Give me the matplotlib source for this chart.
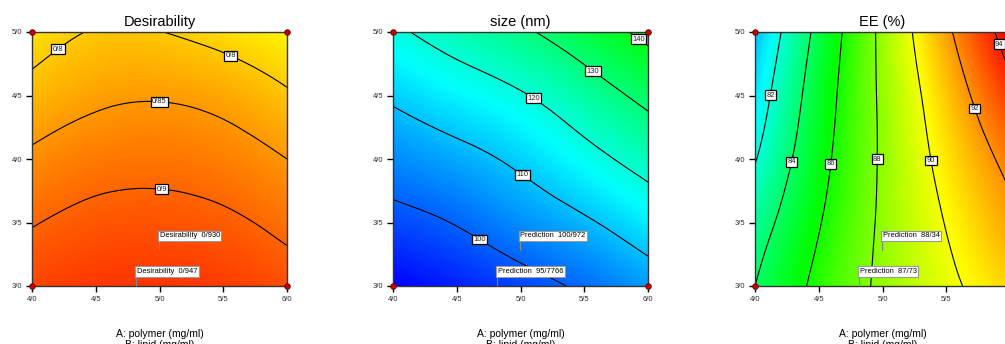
import numpy as np
import matplotlib
matplotlib.use("Agg")
import matplotlib.pyplot as plt
import matplotlib.tri as mtri
from matplotlib.colors import LinearSegmentedColormap

plt.rcParams['font.family'] = ['Liberation Sans', 'DejaVu Sans']

# factor levels (mg/ml)
polymer = [4.0, 4.5, 5.0, 5.5, 6.0]   # A
lipid = [3.0, 3.5, 4.0, 4.5, 5.0]     # B

# responses, rows = lipid, cols = polymer
desirability = [
    [0.932, 0.944, 0.947, 0.939, 0.922],
    [0.897, 0.914, 0.917, 0.909, 0.887],
    [0.859, 0.879, 0.884, 0.874, 0.850],
    [0.817, 0.840, 0.846, 0.834, 0.806],
    [0.775, 0.803, 0.801, 0.782, 0.757],
]
size_nm = [
    [90.2, 93.4, 97.2, 101.2, 106.1],
    [97.5, 100.4, 104.7, 109.0, 114.5],
    [104.3, 107.5, 111.6, 117.2, 123.2],
    [111.2, 115.3, 119.3, 125.5, 132.3],
    [118.6, 123.6, 128.6, 135.0, 142.2],
]
ee_pct = [
    [84.0, 86.43, 88.30, 89.69, 90.86],
    [83.1, 85.89, 88.24, 90.06, 91.68],
    [81.9, 85.38, 88.21, 90.51, 92.40],
    [81.0, 84.98, 88.28, 91.03, 93.55],
    [80.2, 84.51, 88.39, 91.70, 94.69],
]

# design points (corners)
design_A = [4.0, 4.0, 6.0, 6.0]
design_B = [3.0, 5.0, 3.0, 5.0]

titles = ['Desirability', 'size (nm)', 'EE (%)']
levels = [[0.8, 0.85, 0.9],
          [100, 110, 120, 130, 140],
          [82, 84, 86, 88, 90, 92, 94]]
color_range = [(0.0, 1.0), (90, 194), (77, 94.5)]

# flags: prediction at (5.0, 3.28) and at (4.82, 3.0)
flag_name = ['Desirability', 'Prediction', 'Prediction']
flag_hi = ['0/930', '100/972', '88/34']
flag_lo = ['0/947', '95/7766', '87/73']
flag_hi_at = (5.0, 3.28)
flag_lo_at = (4.82, 3.0)

label_spots = [
    [(4.17, 4.91), (5.57, 4.84), (5.0, 4.47), (5.02, 3.78)],
    [(4.70, 3.40), (5.035, 3.906), (5.10, 4.475), (5.58, 4.706), (5.93, 4.95)],
    [(4.118, 4.504), (4.283, 3.98), (4.598, 3.963), (4.957, 4.0),
     (5.371, 3.987), (5.72, 4.396), (5.93, 4.91)],
]

cmap = LinearSegmentedColormap.from_list(
    'dx', ['#0000ff', '#00ffff', '#00ff00', '#ffff00', '#ff0000'])

fig = plt.figure(figsize=(10.05, 3.44), dpi=100)
lefts = [32 / 1005, 393 / 1005, 755 / 1005]
bottom, w, h = 58 / 344, 255 / 1005, 254 / 344

AA, BB = np.meshgrid(polymer, lipid)
tri = mtri.Triangulation(AA.ravel(), BB.ravel())
refiner = mtri.UniformTriRefiner(tri)


def slash(v, pos=None):
    return f"{v:.1f}".replace('.', '/')


for i, z in enumerate([desirability, size_nm, ee_pct]):
    ax = fig.add_axes([lefts[i], bottom, w, h])
    tri_f, z_f = refiner.refine_field(np.array(z).ravel(), subdiv=5)
    vmin, vmax = color_range[i]
    ax.tripcolor(tri_f, z_f, shading='gouraud', cmap=cmap, vmin=vmin, vmax=vmax)
    cs = ax.tricontour(tri_f, z_f, levels=levels[i], colors='black', linewidths=0.8)
    fmt = (lambda v: f"{v:g}".replace('.', '/'))
    txts = ax.clabel(cs, manual=label_spots[i], inline=False, fmt=fmt, fontsize=5.5)
    for t in txts:
        t.set_rotation(0)
        t.set_color('#222222')
        t.set_bbox(dict(facecolor='white', edgecolor='black', linewidth=0.9, pad=1.0))

    ax.set_xlim(4, 6)
    ax.set_ylim(3, 5)
    ax.set_xticks(polymer)
    ax.set_yticks(lipid)
    ax.xaxis.set_major_formatter(plt.FuncFormatter(slash))
    ax.yaxis.set_major_formatter(plt.FuncFormatter(slash))
    ax.tick_params(direction='out', length=4, width=1, labelsize=5.5,
                   labelcolor='#333333', pad=3)
    for sp in ax.spines.values():
        sp.set_color('#333333')
        sp.set_linewidth(1)

    ax.set_title(titles[i], fontsize=10.5, pad=4)
    ax.text(0.5, -0.17, 'A: polymer (mg/ml)\nB: lipid (mg/ml)', transform=ax.transAxes,
            ha='center', va='top', fontsize=7.5, linespacing=1.1)

    ax.scatter(design_A, design_B, s=16, color='#cc0000', edgecolor='#550000',
               linewidth=0.6, zorder=6, clip_on=False)

    flag_box = dict(facecolor='white', edgecolor='#999999', linewidth=0.8, pad=1.2)
    for at, val in [(flag_hi_at, flag_hi[i]), (flag_lo_at, flag_lo[i])]:
        ax.annotate(f"{flag_name[i]}  {val}", xy=at, xytext=(0, 8),
                    textcoords='offset points', ha='left', va='bottom', fontsize=5.4,
                    bbox=flag_box, zorder=7,
                    arrowprops=dict(arrowstyle='-', color='#888888', lw=0.8,
                                    relpos=(0, 0), shrinkA=0, shrinkB=0))

fig.savefig('out.png', dpi=100)
